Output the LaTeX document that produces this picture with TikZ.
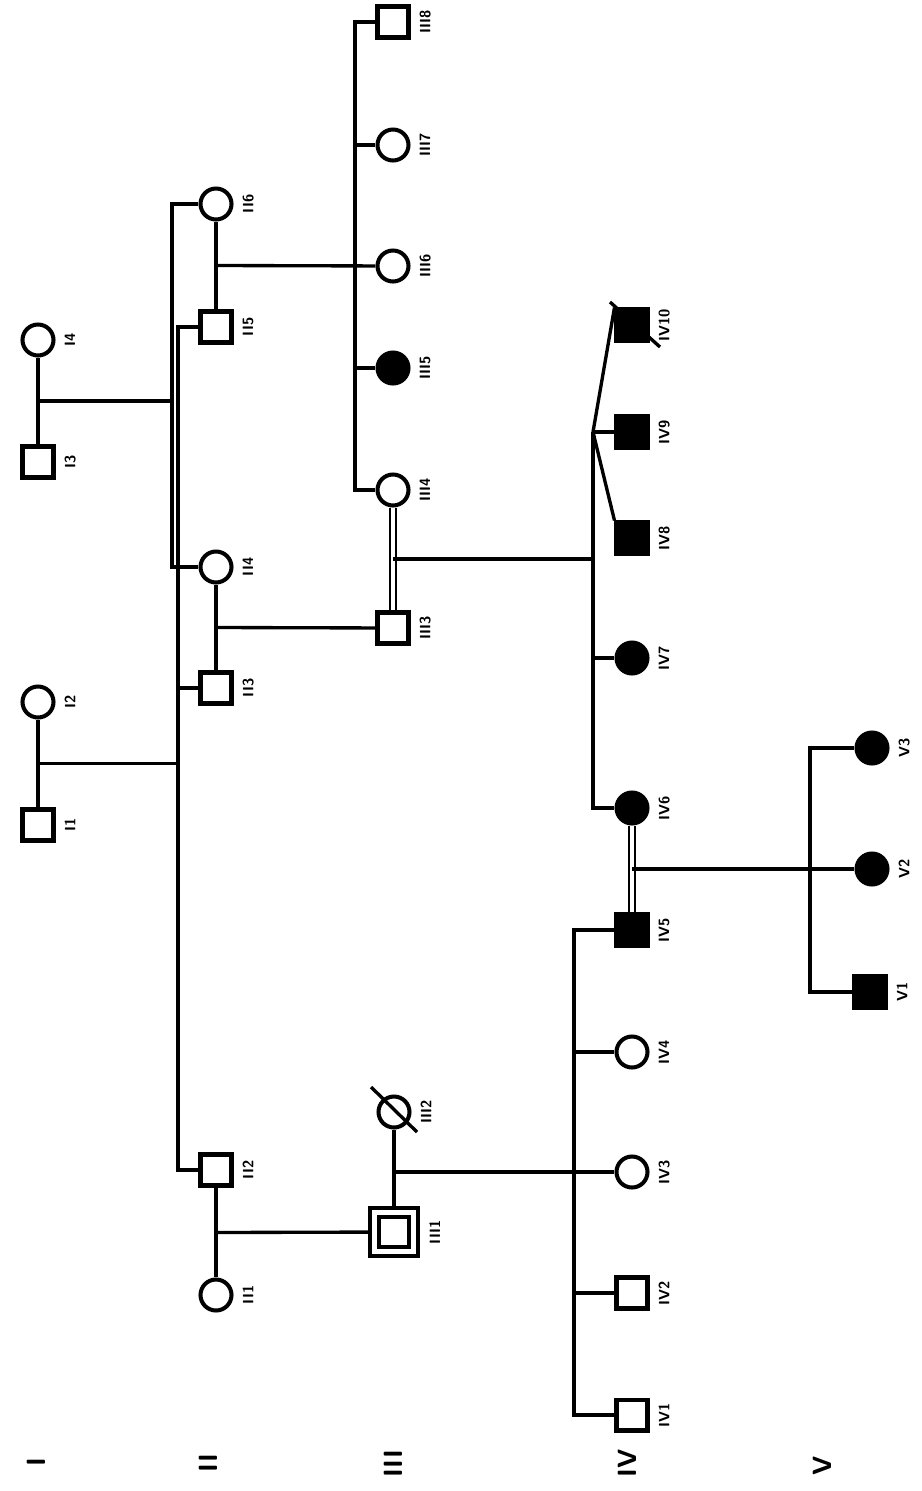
\documentclass[tikz,border=0pt]{standalone}
\usetikzlibrary{calc}
\tikzset{
  person/.style={draw, line width=2.3pt, fill=white, inner sep=0pt, minimum size=0.62cm},
  male/.style={person, rectangle},
  female/.style={person, circle},
  affected/.style={fill=black},
  link/.style={line width=1.9pt},
  consang/.style={double, line width=1.5pt, double distance=1.8pt},
  lbl/.style={rotate=90, anchor=north, inner sep=1pt, font=\sffamily\bfseries\fontsize{8.5}{9}\selectfont},
  gen/.style={rotate=90, font=\sffamily\bfseries\fontsize{15}{17}\selectfont},
}
\begin{document}
\begin{tikzpicture}[x=0.02cm, y=-0.02cm]
  \useasboundingbox (0,0) rectangle (921,1491);

  % generation I
  \node[male]   (I1) at (38,825) {};
  \node[female] (I2) at (38,702) {};
  \node[male]   (I3) at (38,462) {};
  \node[female] (I4) at (38,340) {};
  % generation II
  \node[female] (II1) at (216,1295) {};
  \node[male]   (II2) at (216,1170) {};
  \node[male]   (II3) at (216,688) {};
  \node[female] (II4) at (216,567) {};
  \node[male]   (II5) at (216,327) {};
  \node[female] (II6) at (216,204) {};
  % generation III
  \node[male, minimum size=0.96cm, line width=2.5pt] (III1) at (394,1232) {};
  \draw[line width=2.3pt] ([shift={(-15,-15)}]III1.center) rectangle ([shift={(15,15)}]III1.center);
  \node[female] (III2) at (394,1112) {};
  \node[male]   (III3) at (393,628) {};
  \node[female] (III4) at (393,490) {};
  \node[female, affected] (III5) at (393,368) {};
  \node[female] (III6) at (393,266) {};
  \node[female] (III7) at (393,145) {};
  \node[male]   (III8) at (393,22) {};
  % generation IV
  \node[male]   (IV1) at (632,1415) {};
  \node[male]   (IV2) at (632,1293) {};
  \node[female] (IV3) at (632,1172) {};
  \node[female] (IV4) at (632,1052) {};
  \node[male, affected]   (IV5) at (632,930) {};
  \node[female, affected] (IV6) at (632,808) {};
  \node[female, affected] (IV7) at (632,658) {};
  \node[male, affected]   (IV8) at (632,538) {};
  \node[male, affected]   (IV9) at (632,432) {};
  \node[male, affected]   (IV10) at (632,325) {};
  % generation V
  \node[male, affected]   (V1) at (870,992) {};
  \node[female, affected] (V2) at (872,869) {};
  \node[female, affected] (V3) at (872,748) {};

  % sibship lines
  \coordinate (sA) at (178,0);
  \coordinate (sB) at (172,0);
  \coordinate (sC) at (355,0);
  \coordinate (sD) at (593,0);
  \coordinate (sE) at (574,0);
  \coordinate (sF) at (810,0);

  \draw[link] (I1) -- (I2);
  \coordinate (m-I12) at ($(I1)!0.5!(I2)$);
  \draw[link] (m-I12) -- (m-I12 -| sA);
  \draw[link] (II5) -| (m-I12 -| sA) |- (II2);
  \draw[link] (II3) -- (II3 -| sA);

  \draw[link] (I3) -- (I4);
  \coordinate (m-I34) at ($(I3)!0.5!(I4)$);
  \draw[link] (m-I34) -- (m-I34 -| sB);
  \draw[link] (II6) -| (m-I34 -| sB) |- (II4);

  \draw[link] (II5) -- (II6);
  \coordinate (m-II56) at ($(II5)!0.5!(II6)$);
  \draw[link] (m-II56) -- (III6);
  \draw[link] (III8) -| (m-II56 -| sC) |- (III4);
  \draw[link] (III7) -- (III7 -| sC);
  \draw[link] (III5) -- (III5 -| sC);

  \draw[link] (II3) -- (II4);
  \draw[link] ($(II3)!0.5!(II4)$) -- (III3);

  \draw[link] (II1) -- (II2);
  \draw[link] ($(II1)!0.5!(II2)$) -- (III1);

  \draw[consang] (III3) -- (III4);
  \coordinate (m-III34) at ($(III3)!0.5!(III4)$);
  \coordinate (tri) at (IV9 -| sD);
  \draw[link] (m-III34) -- (m-III34 -| sD);
  \draw[link] (tri) |- (IV6);
  \draw[link] (IV7) -- (IV7 -| sD);
  \draw[link] (tri) -- (IV9);
  \draw[link] (tri) -- (IV8.north west);
  \draw[link] (tri) -- (IV10.north west);
  \draw[link] ([shift={(-22,-23)}]IV10.center) -- ([shift={(28,22)}]IV10.center);

  \draw[link] (III1) -- (III2);
  \draw[link] ([shift={(-23,-25)}]III2.center) -- ([shift={(23,20)}]III2.center);
  \coordinate (m-III12) at ($(III1)!0.5!(III2)$);
  \draw[link] (m-III12) -- (IV3);
  \draw[link] (IV5) -| (m-III12 -| sE) |- (IV1);
  \draw[link] (IV4) -- (IV4 -| sE);
  \draw[link] (IV2) -- (IV2 -| sE);

  \draw[consang] (IV5) -- (IV6);
  \coordinate (m-IV56) at ($(IV5)!0.5!(IV6)$);
  \draw[link] (m-IV56) -- (V2);
  \draw[link] (V3) -| (m-IV56 -| sF) |- (V1);

  % labels
  \foreach \p in {I1,I2,I3,I4,II1,II2,II3,II4,II5,II6,III1,III2,III3,III4,III5,III6,III7,III8,
                  IV1,IV2,IV3,IV4,IV5,IV6,IV7,IV8,IV9,IV10,V1,V2,V3}
    \node[lbl] (\p-l) at ([xshift=4pt]\p.east) {\p};

  \node[gen] (g1) at (36,1462) {I};
  \node[gen] (g2) at (208,1463) {II};
  \node[gen] (g3) at (393,1464) {III};
  \node[gen] (g4) at (627,1463) {IV};
  \node[gen] (g5) at (822,1466) {V};
\end{tikzpicture}
\end{document}
